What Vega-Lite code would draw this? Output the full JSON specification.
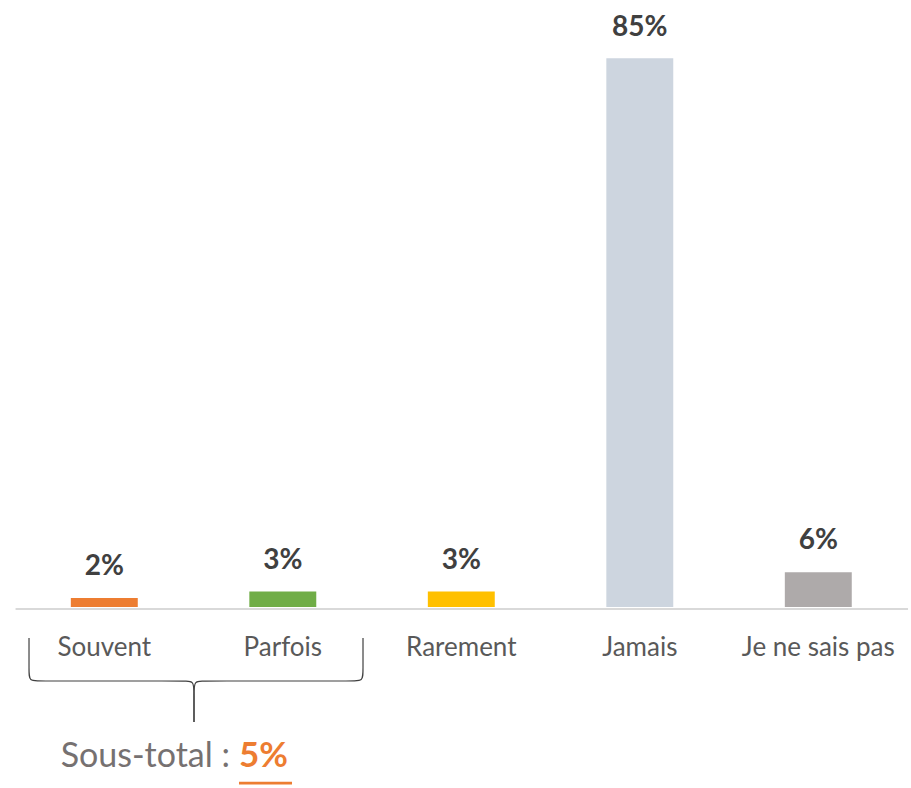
{
  "$schema": "https://vega.github.io/schema/vega-lite/v6.json",
  "width": 898,
  "height": 788,
  "padding": {"left": 13, "top": 0, "right": 0, "bottom": 0},
  "autosize": {"type": "none"},
  "config": {"view": {"stroke": null}, "font": "Lato"},
  "resolve": {"scale": {"x": "independent"}},
  "layer": [
    {
      "data": {"values": [
        {"answer": "Souvent", "value": 1.4, "label": "2%"},
        {"answer": "Parfois", "value": 2.4, "label": "3%"},
        {"answer": "Rarement", "value": 2.4, "label": "3%"},
        {"answer": "Jamais", "value": 85, "label": "85%"},
        {"answer": "Je ne sais pas", "value": 5.4, "label": "6%"}
      ]},
      "layer": [
        {
          "mark": {"type": "bar", "width": {"band": 0.375}},
          "encoding": {
            "x": {
              "field": "answer",
              "type": "nominal",
              "sort": ["Souvent", "Parfois", "Rarement", "Jamais", "Je ne sais pas"],
              "scale": {"type": "band", "range": [2.05, 894.55], "paddingInner": 0, "paddingOuter": 0},
              "axis": {
                "orient": "bottom",
                "offset": -179.5,
                "title": null,
                "domain": true,
                "domainColor": "#d9d9d9",
                "domainWidth": 2,
                "ticks": false,
                "tickSize": 0,
                "grid": false,
                "labelAngle": 0,
                "labelFont": "Lato",
                "labelFontSize": 26,
                "labelColor": "#595959",
                "labelBaseline": "alphabetic",
                "labelPadding": 46.5
              }
            },
            "y": {
              "field": "value",
              "type": "quantitative",
              "scale": {"domain": [-28.04, 94.04], "nice": false, "zero": false},
              "axis": null
            },
            "color": {
              "field": "answer",
              "type": "nominal",
              "scale": {
                "domain": ["Souvent", "Parfois", "Rarement", "Jamais", "Je ne sais pas"],
                "range": ["#ED7D31", "#70AD47", "#FFC000", "#CDD5DF", "#AEAAAA"]
              },
              "legend": null
            }
          }
        },
        {
          "mark": {"type": "text", "fontWeight": "bold", "fontSize": 28, "color": "#404040", "baseline": "alphabetic", "dy": -22.7},
          "encoding": {
            "x": {"field": "answer", "type": "nominal", "sort": ["Souvent", "Parfois", "Rarement", "Jamais", "Je ne sais pas"]},
            "y": {"field": "value", "type": "quantitative"},
            "text": {"field": "label"}
          }
        }
      ]
    },
    {
      "layer": [
        {
          "data": {"values": [
            {"side": "left", "k": 0, "pos": -0.4218, "y": -4.8},
            {"side": "left", "k": 1, "pos": -0.4218, "y": -10.07},
            {"side": "left", "k": 2, "pos": -0.4218, "y": -11.46},
            {"side": "left", "k": 3, "pos": -0.3602, "y": -11.46},
            {"side": "left", "k": 4, "pos": 0.4465, "y": -11.46},
            {"side": "left", "k": 5, "pos": 0.5025, "y": -11.46},
            {"side": "left", "k": 6, "pos": 0.5025, "y": -13.17},
            {"side": "left", "k": 7, "pos": 0.5025, "y": -17.82},
            {"side": "right", "k": 0, "pos": 1.4493, "y": -4.8},
            {"side": "right", "k": 1, "pos": 1.4493, "y": -10.07},
            {"side": "right", "k": 2, "pos": 1.4493, "y": -11.46},
            {"side": "right", "k": 3, "pos": 1.3877, "y": -11.46},
            {"side": "right", "k": 4, "pos": 0.5585, "y": -11.46},
            {"side": "right", "k": 5, "pos": 0.5025, "y": -11.46},
            {"side": "right", "k": 6, "pos": 0.5025, "y": -13.17},
            {"side": "right", "k": 7, "pos": 0.5025, "y": -17.82}
          ]},
          "mark": {"type": "line", "interpolate": "basis", "color": "#404040", "strokeWidth": 1.2},
          "encoding": {
            "x": {"field": "pos", "type": "quantitative", "scale": {"domain": [-0.5115, 4.5193], "nice": false, "zero": false}, "axis": null},
            "y": {"field": "y", "type": "quantitative"},
            "detail": {"field": "side", "type": "nominal"},
            "order": {"field": "k", "type": "quantitative"}
          }
        },
        {
          "data": {"values": [
            {"k": 0, "pos": 0.7546, "y": -27.27},
            {"k": 1, "pos": 1.0516, "y": -27.27}
          ]},
          "mark": {"type": "line", "color": "#ED7D31", "strokeWidth": 2.8},
          "encoding": {
            "x": {"field": "pos", "type": "quantitative"},
            "y": {"field": "y", "type": "quantitative"},
            "order": {"field": "k", "type": "quantitative"}
          }
        },
        {
          "data": {"values": [{"caption": "Sous-total :", "subtotal": "5%", "pos": 0.5, "y": -24.74}]},
          "layer": [
            {
              "mark": {"type": "text", "fontSize": 34, "color": "#767171", "align": "right", "baseline": "alphabetic", "dx": 36.45},
              "encoding": {
                "x": {"field": "pos", "type": "quantitative"},
                "y": {"field": "y", "type": "quantitative"},
                "text": {"field": "caption"}
              }
            },
            {
              "mark": {"type": "text", "fontSize": 35, "fontWeight": "bold", "color": "#ED7D31", "align": "left", "baseline": "alphabetic", "dx": 45.45},
              "encoding": {
                "x": {"field": "pos", "type": "quantitative"},
                "y": {"field": "y", "type": "quantitative"},
                "text": {"field": "subtotal"}
              }
            }
          ]
        }
      ]
    }
  ]
}
